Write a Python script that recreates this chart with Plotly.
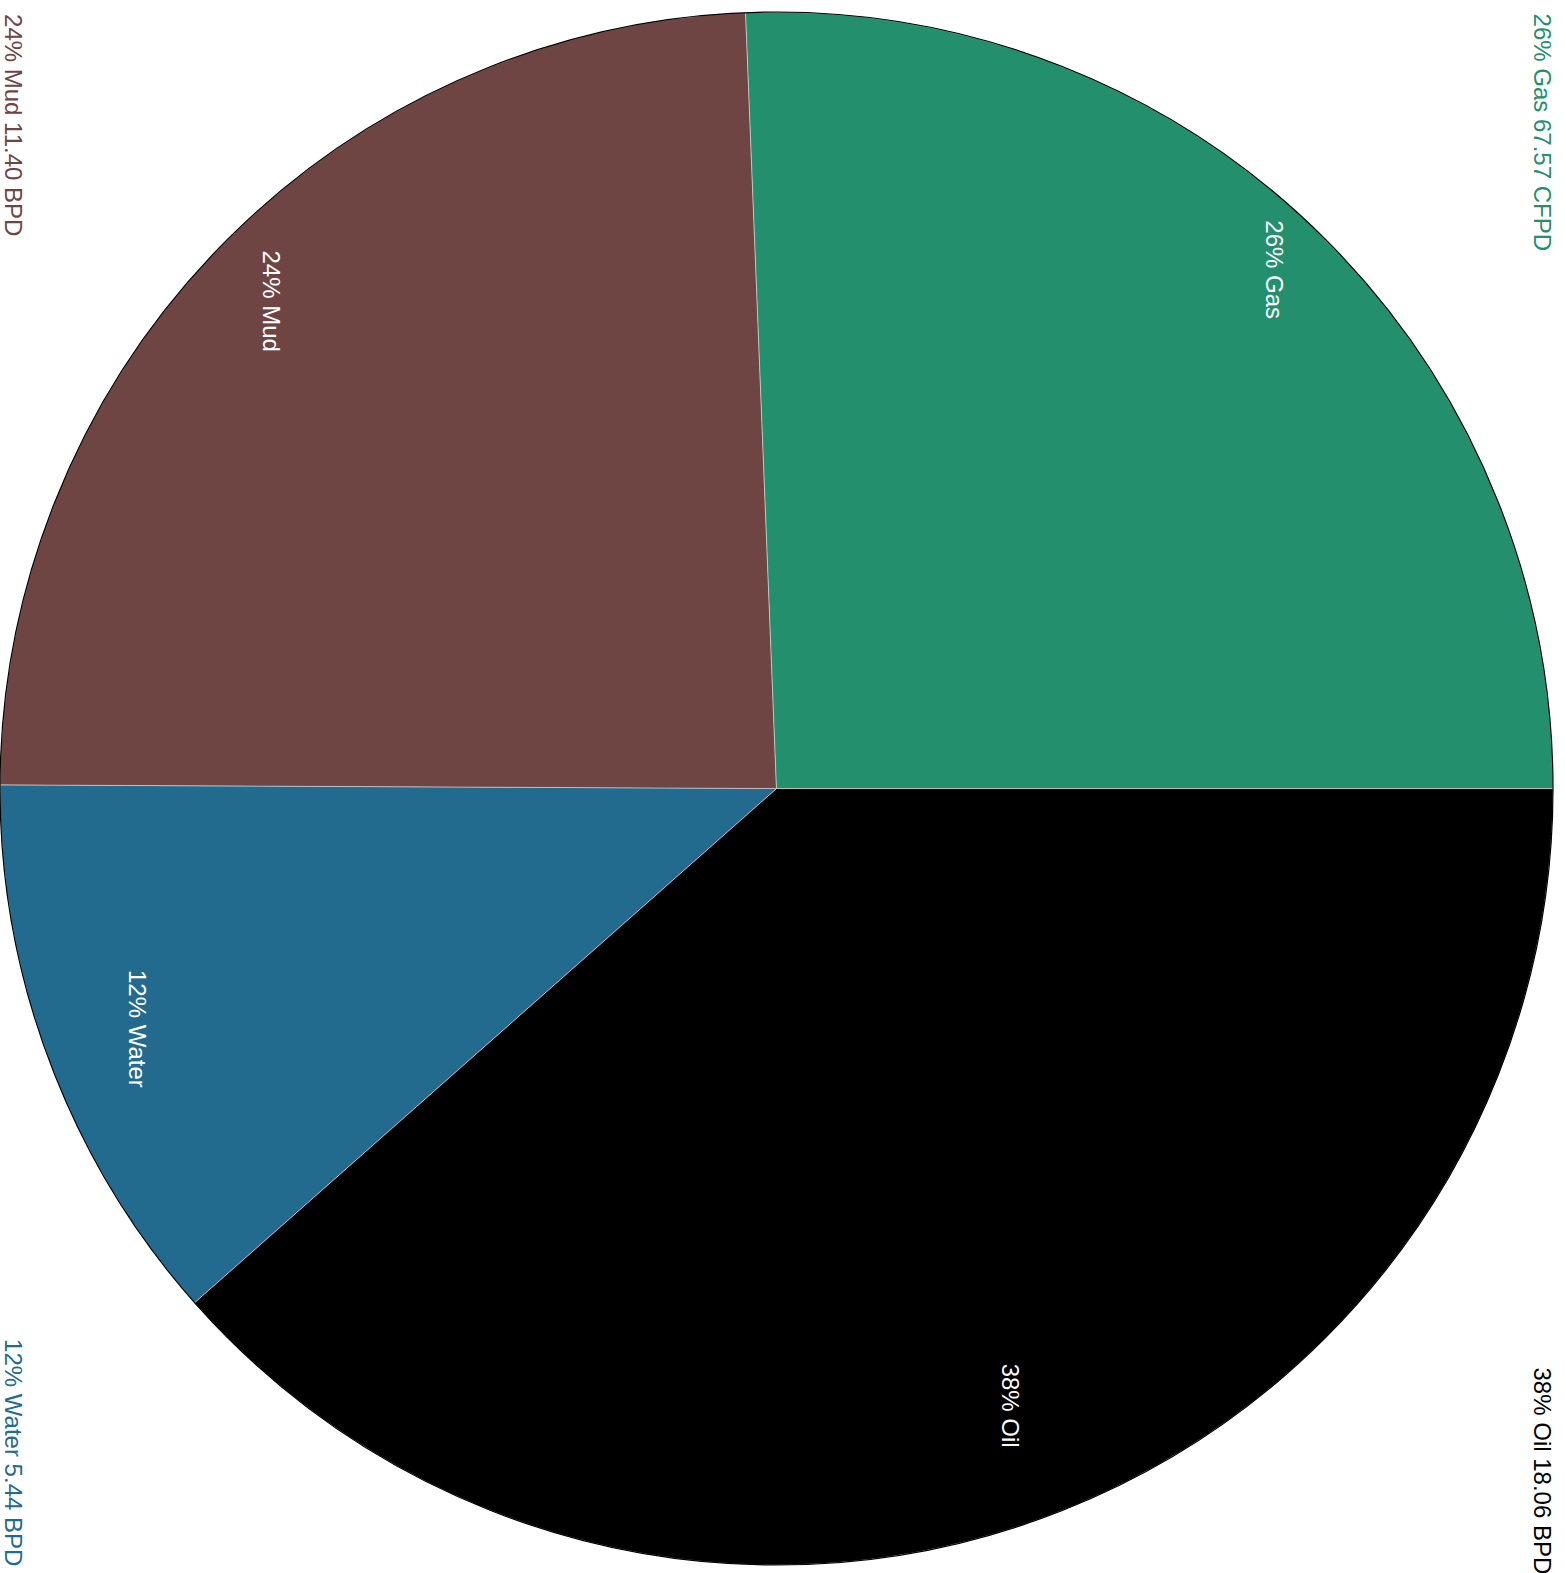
import math
import plotly.graph_objects as go

# ---- data ----
labels = ["Oil", "Water", "Mud", "Gas"]
values_boe = [18.06, 5.44, 11.40, 12.03]          # slice sizes (gas as barrel-equivalent)
reported = ["18.06", "5.44", "11.40", "67.57"]     # reported rates
units = ["BPD", "BPD", "BPD", "CFPD"]
colors = ["#000000", "#236b8e", "#6e4543", "#238f6c"]

# ---- style / layout constants ----
FONT = "Liberation Sans, Arial, Helvetica, sans-serif"
W, H = 1565, 1573
MARGIN = dict(l=0, r=12, t=12, b=8)
ROTATION = 90
inner_radius_frac = [0.850, 0.879, 0.904, 0.926]   # label placement along radius
corner_pos = {
    "Mud": dict(x=-0.001, y=1.0, xanchor="left", yanchor="top"),
    "Gas": dict(x=1.0035, y=1.0, xanchor="right", yanchor="top"),
    "Oil": dict(x=1.0035, y=-0.0077, xanchor="right", yanchor="bottom"),
    "Water": dict(x=-0.001, y=-0.0023, xanchor="left", yanchor="bottom"),
}

total = sum(values_boe)
pcts = [round(v / total * 100) for v in values_boe]

fig = go.Figure()
fig.add_trace(go.Pie(
    labels=labels, values=values_boe, sort=False, direction="clockwise",
    rotation=ROTATION, marker=dict(colors=colors, line=dict(color="rgba(255,255,255,0.6)", width=0.7)),
    textinfo="none", hoverinfo="label+percent", showlegend=False,
    domain=dict(x=[0, 1], y=[0, 1]),
))
# outer outline
fig.add_trace(go.Pie(
    labels=["outline"], values=[1], sort=False,
    marker=dict(colors=["rgba(0,0,0,0)"], line=dict(color="black", width=1.2)),
    textinfo="none", hoverinfo="skip", showlegend=False,
    domain=dict(x=[0, 1], y=[0, 1]),
))

annotations = []
start = ROTATION
for lab, v, p, c, f, rep, u in zip(labels, values_boe, pcts, colors, inner_radius_frac, reported, units):
    span = v / total * 360.0
    mid = math.radians(start + span / 2.0)   # clockwise from 12 o'clock
    start += span
    annotations.append(dict(
        x=0.5 + 0.5 * f * math.sin(mid), y=0.5 + 0.5 * f * math.cos(mid),
        xref="paper", yref="paper", text=f"{p}% {lab}", showarrow=False,
        textangle=90, xanchor="center", yanchor="middle",
        font=dict(family=FONT, size=24, color="white"),
    ))
    pos = corner_pos[lab]
    annotations.append(dict(
        xref="paper", yref="paper", text=f"{p}% {lab} {rep} {u}", showarrow=False,
        textangle=90, font=dict(family=FONT, size=24, color=c), **pos,
    ))

fig.update_layout(
    width=W, height=H, margin=MARGIN, paper_bgcolor="white", plot_bgcolor="white",
    annotations=annotations, font=dict(family=FONT),
)
fig.write_html("out.html", config={"displayModeBar": False},
               post_script="document.body.style.margin='0';")
